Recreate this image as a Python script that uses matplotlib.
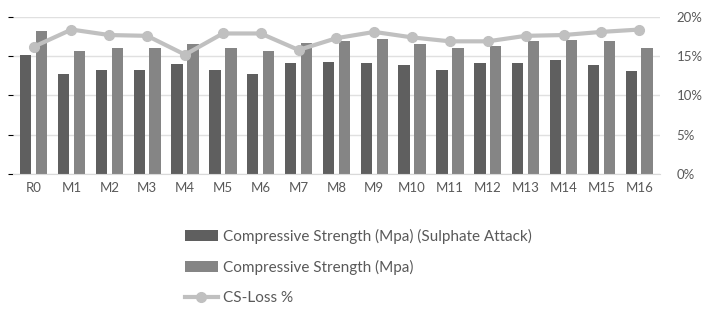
import matplotlib
matplotlib.use("Agg")
import matplotlib.pyplot as plt
import numpy as np

categories = ["R0", "M1", "M2", "M3", "M4", "M5", "M6", "M7", "M8", "M9",
              "M10", "M11", "M12", "M13", "M14", "M15", "M16"]
cs_sulphate = [15.2, 12.8, 13.2, 13.2, 14.0, 13.2, 12.8, 14.1, 14.3, 14.1,
               13.9, 13.2, 14.2, 14.2, 14.5, 13.9, 13.1]
cs_normal = [18.2, 15.7, 16.1, 16.0, 16.5, 16.0, 15.7, 16.7, 16.9, 17.2,
             16.5, 16.0, 16.3, 16.9, 17.1, 16.9, 16.1]
cs_loss = [16.2, 18.4, 17.7, 17.6, 15.2, 17.9, 17.9, 15.8, 17.3, 18.1,
           17.4, 16.9, 16.9, 17.6, 17.7, 18.1, 18.4]
pct_ticks = [0, 5, 10, 15, 20]

plt.rcParams['font.family'] = ['Lato', 'DejaVu Sans']

fig = plt.figure(figsize=(7.12, 3.09), dpi=100)
ax = fig.add_axes([0.018, 0.437, 0.909, 0.508])
x = np.arange(len(categories))
w = 0.3
b1 = ax.bar(x - 0.21, cs_sulphate, w, color="#5f5f5f",
            label="Compressive Strength (Mpa) (Sulphate Attack)", zorder=2)
b2 = ax.bar(x + 0.21, cs_normal, w, color="#858585",
            label="Compressive Strength (Mpa)", zorder=2)
ax.set_ylim(0, 20)
ax.set_xlim(-0.55, len(categories) - 0.45)
ax.set_yticks(pct_ticks)
ax.tick_params(axis='y', left=False, labelleft=False)
ax.grid(axis='y', color="#e0e0e0", linewidth=1, zorder=0)
for s in ["top", "left", "right"]:
    ax.spines[s].set_visible(False)
ax.spines["bottom"].set_color("#d9d9d9")
ax.set_xticks(x)
ax.set_xticklabels(categories, fontsize=9.5, color="#595959")
ax.tick_params(axis='x', length=0, pad=6)

ax2 = ax.twinx()
ln, = ax2.plot(x, cs_loss, color="#c0c0c0", linewidth=3, marker="o",
               markersize=7, label="CS-Loss %", zorder=3)
ax2.set_ylim(0, 20)
ax2.set_yticks(pct_ticks)
ax2.set_yticklabels([f"{t}%" for t in pct_ticks], fontsize=9.5, color="#595959")
ax2.tick_params(axis='y', length=0, pad=12)
for s in ["top", "left", "right", "bottom"]:
    ax2.spines[s].set_visible(False)

fig.legend(handles=[b1, b2, ln], loc="center", bbox_to_anchor=(0.503, 0.136),
           ncol=1, frameon=False, fontsize=11, labelcolor="#595959",
           labelspacing=1.05, handlelength=2.2, handletextpad=0.3)
fig.savefig("out.png", dpi=100)
